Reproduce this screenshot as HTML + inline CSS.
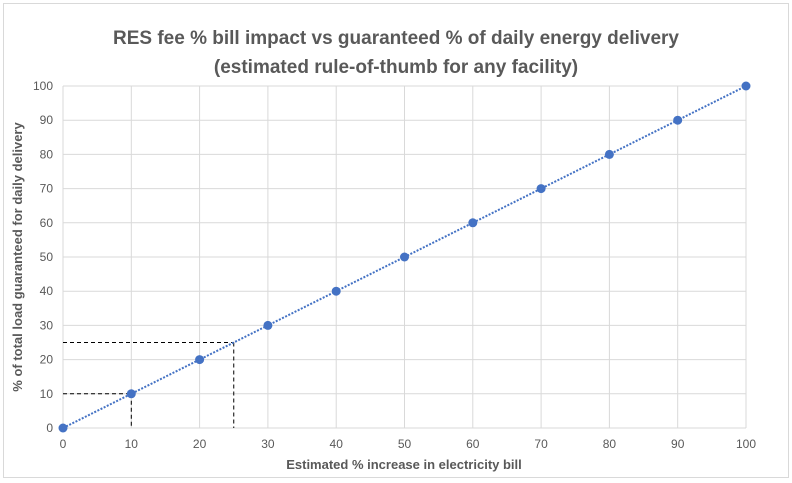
<!DOCTYPE html>
<html><head><meta charset="utf-8"><style>
body{margin:0;background:#fff;}
svg{display:block;font-family:"Liberation Sans",sans-serif;}
</style></head><body>
<svg id="c" width="792" height="483">
<rect x="3.5" y="3.5" width="785" height="474" fill="#fff" stroke="#d9d9d9"/>
<text x="396" y="44" text-anchor="middle" font-size="19" font-weight="bold" fill="#595959">RES fee % bill impact vs guaranteed % of daily energy delivery</text>
<text x="396" y="73" text-anchor="middle" font-size="19" font-weight="bold" fill="#595959">(estimated rule-of-thumb for any facility)</text>
<text x="404" y="469" text-anchor="middle" font-size="13" font-weight="bold" fill="#595959">Estimated % increase in electricity bill</text>
<text transform="translate(22,257) rotate(-90)" text-anchor="middle" font-size="13" font-weight="bold" fill="#595959">% of total load guaranteed for daily delivery</text>
<g id="grid"></g><g id="marks"></g>
</svg>
<script>
const xTicks=[0,10,20,30,40,50,60,70,80,90,100];
const yTicks=[0,10,20,30,40,50,60,70,80,90,100];
const xValues=[0,10,20,30,40,50,60,70,80,90,100];
const yValues=[0,10,20,30,40,50,60,70,80,90,100];
const refX=[10,25];
const refY=[10,25];
const NS="http://www.w3.org/2000/svg";
const X=v=>63+v*6.83, Y=v=>428-v*3.42;
const g=document.getElementById('grid'), m=document.getElementById('marks');
function el(t,a,p){const e=document.createElementNS(NS,t);for(const k in a)e.setAttribute(k,a[k]);p.appendChild(e);return e;}
xTicks.forEach(v=>{
 const l=el('line',{x1:X(v),x2:X(v),y1:Y(100),y2:Y(0),stroke:'#d9d9d9'},g);
 
 
 const t=el('text',{x:X(v),y:Y(0)+20,'text-anchor':'middle','font-size':12,fill:'#595959'},g);t.textContent=v;
 
 
});
yTicks.forEach(v=>{
 const l=el('line',{x1:X(0),x2:X(100),y1:Y(v),y2:Y(v),stroke:'#d9d9d9'},g);
 
 
 const t=el('text',{x:X(0)-10,y:Y(v)+4,'text-anchor':'end','font-size':12,fill:'#595959'},g);t.textContent=v;
 
 
});
refX.forEach((v,i)=>{
 const h=el('line',{x1:X(0),x2:X(v),y1:Y(refY[i]),y2:Y(refY[i]),stroke:'#000','stroke-dasharray':'4,3'},m);
 
 
 const vl=el('line',{x1:X(v),x2:X(v),y1:Y(refY[i]),y2:Y(0),stroke:'#000','stroke-dasharray':'4,3'},m);
 
 
});
const pl=el('polyline',{points:xValues.map((v,i)=>X(v)+','+Y(yValues[i])).join(' '),fill:'none',stroke:'#4472c4','stroke-width':2,'stroke-dasharray':'2,1.5'},m);


xValues.forEach((v,i)=>{
 const c=el('circle',{cx:X(v),cy:Y(yValues[i]),r:4.5,fill:'#4472c4'},m);
 
 
});
</script>
</body></html>
